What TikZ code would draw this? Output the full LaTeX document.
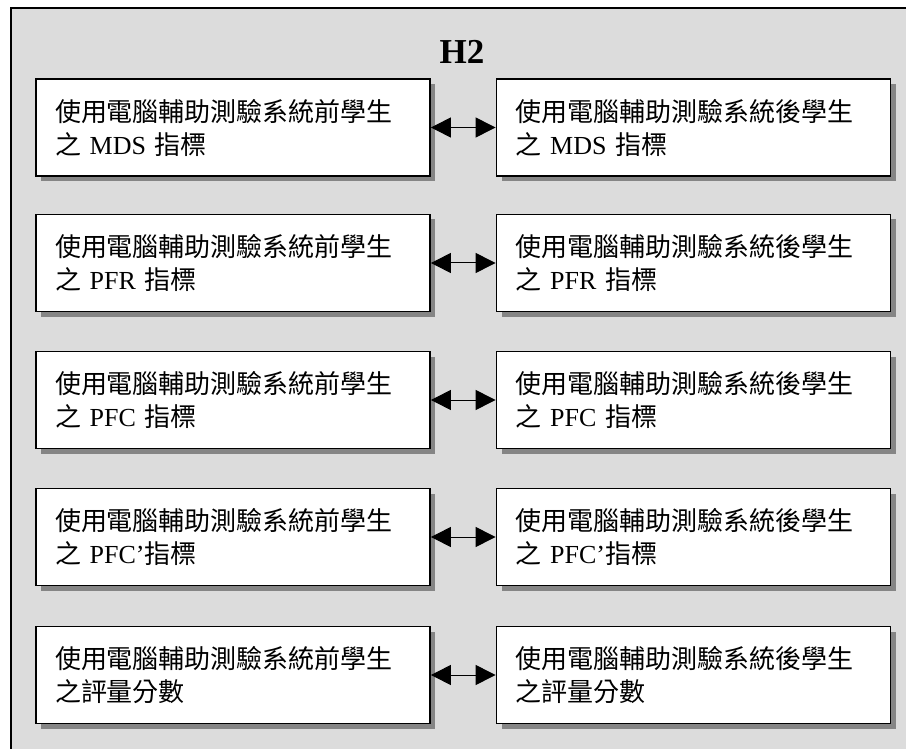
\documentclass[tikz,border=0pt]{standalone}
\usepackage{fontspec}
\setmainfont{Liberation Serif}
\newfontfamily\cjk{Noto Sans CJK TC}
\usetikzlibrary{arrows.meta,shadows}

\definecolor{panelgray}{HTML}{DCDCDC}
\definecolor{shadowgray}{HTML}{858585}

\tikzset{
  panel/.style={draw=black, line width=1.4pt, fill=panelgray},
  indexbox/.style={draw=black, line width=1.8pt, fill=white,
    minimum width=394pt, minimum height=97pt, text width=356pt,
    align=left, inner sep=0pt,
    font=\fontsize{26}{33}\selectfont,
    drop shadow={shadow xshift=5pt, shadow yshift=-5pt, fill=shadowgray, opacity=1}},
  pairlink/.style={line width=1pt,
    {Triangle[length=20pt,width=20pt]}-{Triangle[length=20pt,width=20pt]}},
  heading/.style={font=\fontsize{35}{40}\selectfont\bfseries}
}

\begin{document}
\begin{tikzpicture}[x=1pt, y=-1pt]
  \useasboundingbox (0,0) rectangle (906,749);
  \clip (0,0) rectangle (906,749);
  \draw[panel] (11,8) rectangle (930,770);

  \node[heading] (h2) at (462,52) {H2};

  % before / after pairs
  \node[indexbox] (b1) at (233,127.5) {{\cjk 使用電腦輔助測驗系統前學生}\\{\cjk 之} MDS {\cjk 指標}};
  \node[indexbox] (a1) at (693.5,127.5) {{\cjk 使用電腦輔助測驗系統後學生}\\{\cjk 之} MDS {\cjk 指標}};

  \node[indexbox] (b2) at (233,263) {{\cjk 使用電腦輔助測驗系統前學生}\\{\cjk 之} PFR {\cjk 指標}};
  \node[indexbox] (a2) at (693.5,263) {{\cjk 使用電腦輔助測驗系統後學生}\\{\cjk 之} PFR {\cjk 指標}};

  \node[indexbox] (b3) at (233,400) {{\cjk 使用電腦輔助測驗系統前學生}\\{\cjk 之} PFC {\cjk 指標}};
  \node[indexbox] (a3) at (693.5,400) {{\cjk 使用電腦輔助測驗系統後學生}\\{\cjk 之} PFC {\cjk 指標}};

  \node[indexbox] (b4) at (233,537) {{\cjk 使用電腦輔助測驗系統前學生}\\{\cjk 之} PFC’{\cjk 指標}};
  \node[indexbox] (a4) at (693.5,537) {{\cjk 使用電腦輔助測驗系統後學生}\\{\cjk 之} PFC’{\cjk 指標}};

  \node[indexbox] (b5) at (233,675) {{\cjk 使用電腦輔助測驗系統前學生}\\{\cjk 之評量分數}};
  \node[indexbox] (a5) at (693.5,675) {{\cjk 使用電腦輔助測驗系統後學生}\\{\cjk 之評量分數}};

  \foreach \i in {1,...,5}
    \draw[pairlink] (b\i.east) -- (a\i.west);
\end{tikzpicture}
\end{document}
